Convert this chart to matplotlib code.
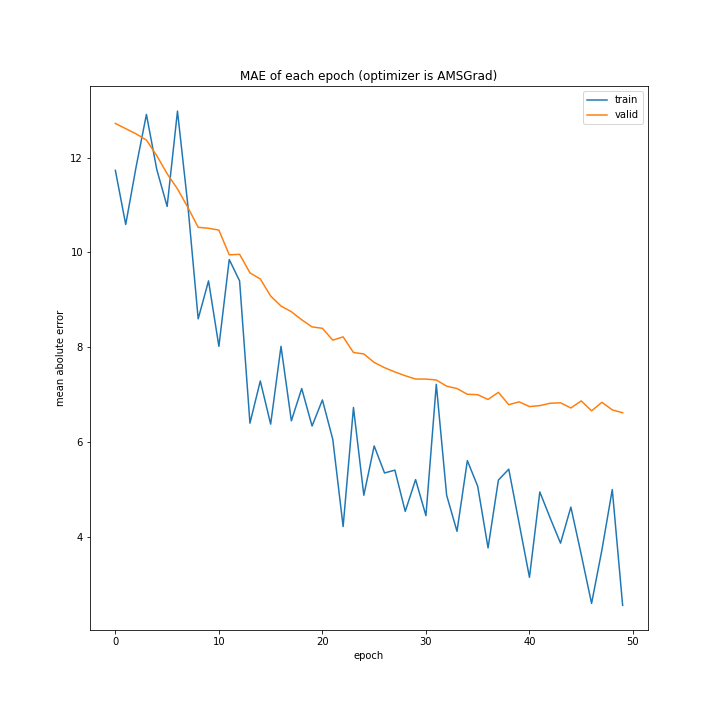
import matplotlib
matplotlib.use("Agg")
import matplotlib.pyplot as plt

epochs = list(range(50))
train = [11.73, 10.59, 11.80, 12.91, 11.75, 10.97, 12.98, 11.00, 8.60, 9.40,
         8.02, 9.85, 9.40, 6.40, 7.29, 6.38, 8.02, 6.45, 7.13, 6.34,
         6.89, 6.06, 4.22, 6.73, 4.88, 5.92, 5.35, 5.41, 4.54, 5.21,
         4.45, 7.22, 4.88, 4.12, 5.61, 5.07, 3.77, 5.20, 5.43, 4.29,
         3.15, 4.95, 4.40, 3.87, 4.63, 3.63, 2.60, 3.73, 5.00, 2.56]
valid = [12.72, 12.61, 12.50, 12.37, 12.04, 11.66, 11.34, 10.95, 10.53, 10.51,
         10.47, 9.95, 9.96, 9.57, 9.44, 9.08, 8.87, 8.75, 8.58, 8.43,
         8.40, 8.15, 8.22, 7.89, 7.86, 7.68, 7.57, 7.48, 7.40, 7.33,
         7.33, 7.31, 7.18, 7.13, 7.01, 7.00, 6.90, 7.05, 6.79, 6.85,
         6.75, 6.77, 6.82, 6.83, 6.72, 6.87, 6.66, 6.84, 6.68, 6.62]

fig = plt.figure(figsize=(10, 10), dpi=72)
ax = fig.add_subplot(111)
fig.subplots_adjust(left=0.125, right=0.9, top=0.88, bottom=0.125)

ax.plot(epochs, train, label="train")
ax.plot(epochs, valid, label="valid")
ax.set_title("MAE of each epoch (optimizer is AMSGrad)")
ax.set_xlabel("epoch")
ax.set_ylabel("mean abolute error")
ax.legend(loc="upper right")

fig.savefig("out.png", dpi=72)
